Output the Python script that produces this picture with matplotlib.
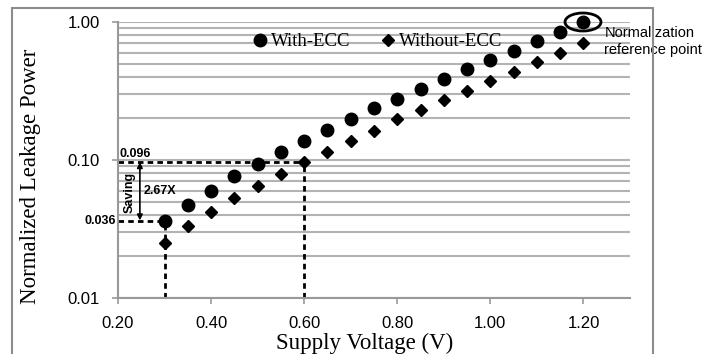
import numpy as np
import matplotlib.pyplot as plt
from matplotlib.patches import Ellipse, Rectangle

# supply voltage (V)
voltage = [0.30, 0.35, 0.40, 0.45, 0.50, 0.55, 0.60, 0.65, 0.70, 0.75,
           0.80, 0.85, 0.90, 0.95, 1.00, 1.05, 1.10, 1.15, 1.20]

# normalized leakage power
with_ecc = [0.036, 0.047, 0.060, 0.076, 0.093, 0.114, 0.137, 0.164, 0.197, 0.237,
            0.277, 0.327, 0.384, 0.456, 0.528, 0.620, 0.724, 0.842, 1.00]
without_ecc = [0.025, 0.033, 0.042, 0.053, 0.065, 0.079, 0.096, 0.115, 0.138, 0.163,
               0.197, 0.230, 0.272, 0.318, 0.374, 0.436, 0.511, 0.600, 0.701]

x_ticks = [0.20, 0.40, 0.60, 0.80, 1.00, 1.20]
y_ticks = [0.01, 0.10, 1.00]

serif = 'Liberation Serif'
sans = 'Liberation Sans'
grid_col = '#b3b3b3'
axis_col = '#999999'

fig = plt.figure(figsize=(7.23, 3.54), dpi=100)
ax = fig.add_axes([118/723, 1-298/354, (630-118)/723, (298-22)/354])

# outer chart frame
fig.patches.append(Rectangle((12/723, -0.02), 641/723, 1-8/354+0.02,
                             transform=fig.transFigure, fill=False,
                             edgecolor='#8c8c8c', linewidth=1.5))

ax.set_yscale('log')
ax.set_xlim(0.2, 1.3)
ax.set_ylim(0.01, 1.0)

# horizontal gridlines, major and minor
ax.yaxis.grid(True, which='both', color=grid_col, linewidth=1.5)
ax.set_axisbelow(True)

ax.plot(voltage, with_ecc, 'o', color='black', markersize=9, label='With-ECC',
        zorder=3, clip_on=False)
ax.plot(voltage, without_ecc, 'D', color='black', markersize=6, label='Without-ECC',
        zorder=3, clip_on=False)

ax.set_xticks(x_ticks)
ax.set_xticklabels(['%.2f' % t for t in x_ticks], fontfamily=sans, fontsize=12)
ax.set_yticks(y_ticks)
ax.set_yticklabels(['%.2f' % t for t in y_ticks], fontfamily=sans, fontsize=12)
ax.yaxis.set_minor_formatter(plt.NullFormatter())
ax.tick_params(axis='y', which='minor', length=0)
ax.tick_params(axis='both', which='major', color=axis_col, length=4.5, width=1.2, pad=8.5)

for s in ['top', 'right']:
    ax.spines[s].set_visible(False)
for s in ['left', 'bottom']:
    ax.spines[s].set_color(axis_col)
    ax.spines[s].set_linewidth(1.5)

ax.set_xlabel('Supply Voltage (V)', fontfamily=serif, fontsize=16.5)
ax.set_ylabel('Normalized Leakage Power', fontfamily=serif, fontsize=16.5)
ax.xaxis.set_label_coords(0.481, -0.125)
ax.yaxis.set_label_coords(-0.15, 0.44)

leg = ax.legend(loc='upper center', bbox_to_anchor=(0.505, 1.02), ncol=2, frameon=False,
                prop={'family': serif, 'size': 13.5}, handletextpad=0.1,
                columnspacing=1.5, handlelength=1.0)

# dashed guide lines
ax.plot([0.2, 0.6], [0.096, 0.096], '--', color='black', lw=2, dashes=(2, 1.5))
ax.plot([0.6, 0.6], [0.01, 0.096], '--', color='black', lw=2, dashes=(2, 1.5))
ax.plot([0.2, 0.3], [0.036, 0.036], '--', color='black', lw=2, dashes=(2, 1.5))
ax.plot([0.3, 0.3], [0.01, 0.036], '--', color='black', lw=2, dashes=(2, 1.5))

# saving arrow
ax.annotate('', xy=(0.247, 0.0965), xytext=(0.247, 0.0365),
            arrowprops=dict(arrowstyle='<|-|>', color='black', lw=1.2,
                            mutation_scale=8, shrinkA=0, shrinkB=0))
ax.text(0.204, 0.106, '0.096', fontfamily=sans, fontweight='bold', fontsize=9)
ax.text(0.195, 0.036, '0.036', fontfamily=sans, fontweight='bold', fontsize=9,
        ha='right', va='center')
ax.text(0.225, 0.058, 'Saving', fontfamily=sans, fontweight='bold', fontsize=9,
        rotation=90, ha='center', va='center')
ax.text(0.256, 0.060, '2.67X', fontfamily=sans, fontweight='bold', fontsize=9,
        va='center')

# normalization reference point
ax.add_patch(Ellipse((583, 354-22), 36, 18, transform=None, fill=False,
                     edgecolor='black', linewidth=2, zorder=4, clip_on=False))
ax.text(1.245, 0.72, 'Normalization\nreference point', fontfamily=sans, fontsize=10.5,
        va='center', linespacing=1.3, clip_on=False)

fig.savefig('out.png', dpi=100)
